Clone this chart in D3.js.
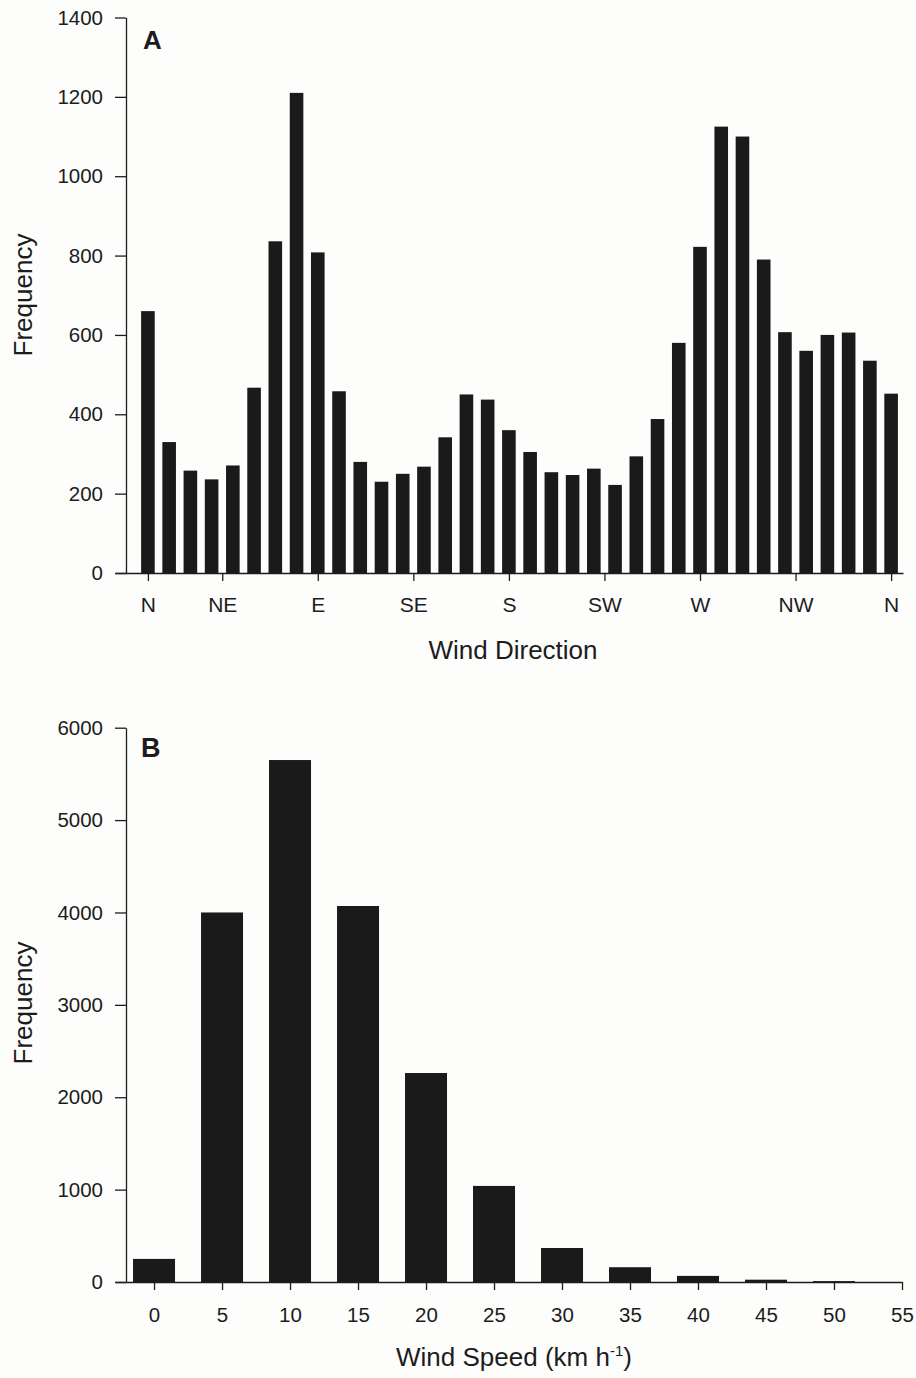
<!DOCTYPE html>
<html>
<head>
<meta charset="utf-8">
<script src="https://cdn.jsdelivr.net/npm/d3@7"></script>
<style>
  html, body { margin: 0; padding: 0; background: #fdfdfc; }
  svg { display: block; }
  text { font-family: Arial, "Liberation Sans", Helvetica, sans-serif; fill: #1c1c1c; }
</style>
</head>
<body>
<svg id="chart" width="916" height="1378"></svg>
<script>
// ---------- Data: Panel A (wind direction, 10° bins) ----------
const directionDegrees = [10,20,30,40,50,60,70,80,90,100,110,120,130,140,150,160,170,180,
                          190,200,210,220,230,240,250,260,270,280,290,300,310,320,330,340,350,360];
const directionFrequency = [660,330,258,236,271,467,836,1210,808,458,280,230,250,268,342,450,437,360,
                            305,254,247,263,222,294,388,580,822,1125,1100,790,607,560,600,606,535,452];
const directionTickValues = [10,45,90,135,180,225,270,315,360];
const directionTickLabels = ["N","NE","E","SE","S","SW","W","NW","N"];
const directionYTicks = [0,200,400,600,800,1000,1200,1400];

// ---------- Data: Panel B (wind speed) ----------
const speedClasses = [0,5,10,15,20,25,30,35,40,45,50,55];
const speedFrequency = [250,4000,5650,4070,2262,1040,368,160,66,25,10,0];
const speedTicks = [0,5,10,15,20,25,30,35,40,45,50,55];
const speedYTicks = [0,1000,2000,3000,4000,5000,6000];

const svg = d3.select("#chart");
const ink = "#1c1c1c";
const barColor = "#1a1a1a";

function styleAxis(g) {
  g.selectAll("path.domain").attr("stroke", ink).attr("stroke-width", 1.3);
  g.selectAll(".tick line").attr("stroke", ink).attr("stroke-width", 1.3);
  g.selectAll(".tick text").attr("fill", ink).style("font-family", "Arial, 'Liberation Sans', sans-serif");
}

// ================= Panel A =================
const xA = d3.scaleLinear().domain([-5.5, 365.6]).range([115, 903]);
const yA = d3.scaleLinear().domain([0, 1400]).range([573, 17.5]);
const barWA = 13.6;

svg.append("g").selectAll("rect")
  .data(directionDegrees)
  .join("rect")
  .attr("x", (d) => xA(d) - barWA / 2)
  .attr("width", barWA)
  .attr("y", (d, i) => yA(directionFrequency[i]))
  .attr("height", (d, i) => yA(0) - yA(directionFrequency[i]))
  .attr("fill", barColor);

const gxA = svg.append("g")
  .attr("transform", `translate(0,${yA(0)})`)
  .call(d3.axisBottom(xA)
    .tickValues(directionTickValues)
    .tickFormat((d, i) => directionTickLabels[i])
    .tickSize(8).tickSizeOuter(0).tickPadding(16));
gxA.selectAll(".tick text").style("font-size", "21px");
styleAxis(gxA);

const gyA = svg.append("g")
  .attr("transform", `translate(126,0)`)
  .call(d3.axisLeft(yA)
    .tickValues(directionYTicks)
    .tickFormat(d3.format("d"))
    .tickSize(11).tickSizeOuter(0).tickPadding(12));
gyA.selectAll(".tick text").style("font-size", "20.5px");
styleAxis(gyA);

svg.append("text")
  .attr("x", 143).attr("y", 49)
  .style("font-size", "26px").style("font-weight", "bold")
  .text("A");

svg.append("text")
  .attr("x", 513).attr("y", 659)
  .attr("text-anchor", "middle")
  .style("font-size", "26px")
  .text("Wind Direction");

svg.append("text")
  .attr("transform", "translate(32,295) rotate(-90)")
  .attr("text-anchor", "middle")
  .style("font-size", "26px")
  .text("Frequency");

// ================= Panel B =================
const xB = d3.scaleLinear().domain([-2.87, 55]).range([115, 902]);
const yB = d3.scaleLinear().domain([0, 6000]).range([1282, 727.7]);
const barWB = 42;

svg.append("g").selectAll("rect")
  .data(speedClasses)
  .join("rect")
  .attr("x", (d) => xB(d) - barWB / 2)
  .attr("width", barWB)
  .attr("y", (d, i) => yB(speedFrequency[i]))
  .attr("height", (d, i) => yB(0) - yB(speedFrequency[i]))
  .attr("fill", barColor);

const gxB = svg.append("g")
  .attr("transform", `translate(0,${yB(0)})`)
  .call(d3.axisBottom(xB)
    .tickValues(speedTicks)
    .tickFormat(d3.format("d"))
    .tickSize(8).tickSizeOuter(0).tickPadding(17));
gxB.selectAll(".tick text").style("font-size", "20.5px");
styleAxis(gxB);

const gyB = svg.append("g")
  .attr("transform", `translate(126,0)`)
  .call(d3.axisLeft(yB)
    .tickValues(speedYTicks)
    .tickFormat(d3.format("d"))
    .tickSize(11).tickSizeOuter(0).tickPadding(12));
gyB.selectAll(".tick text").style("font-size", "20.5px");
styleAxis(gyB);

svg.append("text")
  .attr("x", 141).attr("y", 757)
  .style("font-size", "27px").style("font-weight", "bold")
  .text("B");

const ws = svg.append("text")
  .attr("x", 514).attr("y", 1366)
  .attr("text-anchor", "middle")
  .style("font-size", "26px");
ws.append("tspan").text("Wind Speed (km h");
ws.append("tspan").attr("dy", "-10").style("font-size", "15px").text("-1");
ws.append("tspan").attr("dy", "10").text(")");

svg.append("text")
  .attr("transform", "translate(32,1003) rotate(-90)")
  .attr("text-anchor", "middle")
  .style("font-size", "26px")
  .text("Frequency");
</script>
</body>
</html>
